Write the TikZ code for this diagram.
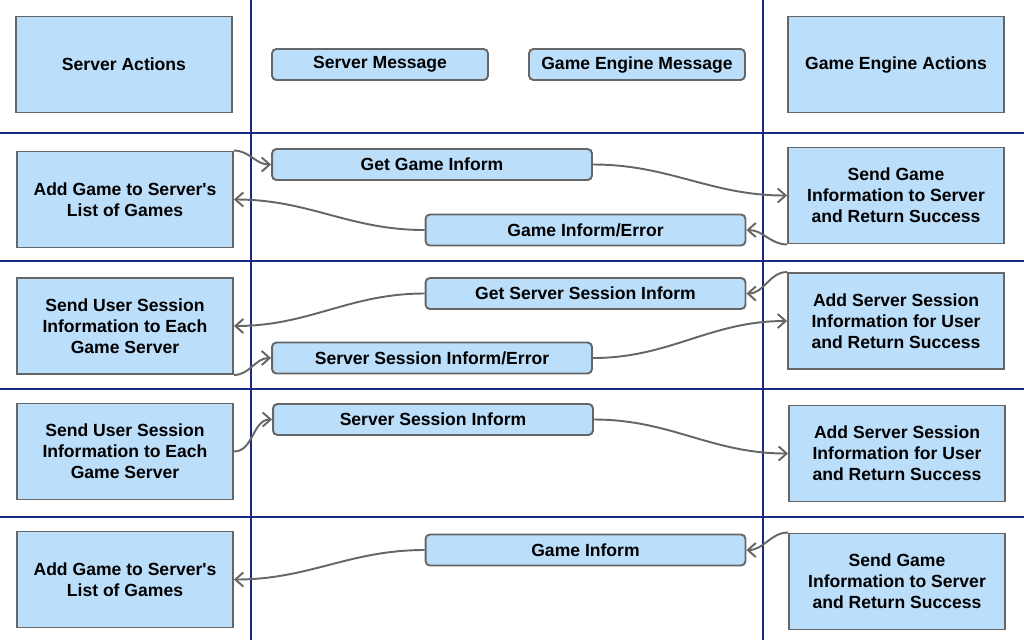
\documentclass[tikz,border=0pt]{standalone}
\usepackage{fontspec}
\setmainfont{Liberation Sans}
\usepackage{xcolor}
\usepackage{tikz}
\usetikzlibrary{arrows.meta, positioning}
\definecolor{laneblue}{RGB}{26, 40, 128}
\definecolor{boxfill}{RGB}{187, 222, 251}
\definecolor{boxgray}{RGB}{102, 102, 102}

\begin{document}
\begin{tikzpicture}[
    x=0.02cm, y=-0.02cm,
    lane/.style={draw=laneblue, line width=1.1pt},
    action/.style={rectangle, draw=boxgray, fill=boxfill, line width=1.1pt, minimum width=4.32cm, minimum height=1.92cm, align=center, font=\fontsize{10}{12}\selectfont\bfseries},
    msg/.style={rectangle, rounded corners=2.5pt, draw=boxgray, fill=boxfill, line width=1.1pt, minimum width=6.4cm, minimum height=0.62cm, align=center, font=\fontsize{10}{12}\selectfont\bfseries},
    arrow/.style={-{Straight Barb[length=4.5pt, width=8pt]}, draw=boxgray, line width=1.1pt}
]
\useasboundingbox (0,0) rectangle (1024,640);

% swimlane grid
\draw[lane] (251,0) -- (251,640);
\draw[lane] (763,0) -- (763,640);
\foreach \y in {133, 261, 389, 517}
    \draw[lane] (0,\y) -- (1024,\y);

% header
\node[action] (hdrserver) at (124,64.5) {Server Actions};
\node[action] (hdrengine) at (896,64.5) {Game Engine Actions};
\node[msg, minimum width=4.32cm] (hdrsmsg) at (380,64.5) {Server Message};
\node[msg, minimum width=4.32cm] (hdremsg) at (637,64.5) {Game Engine Message};

% row 1
\node[action] (left1) at (125,199.5) {Add Game to Server\textquotesingle s\\List of Games};
\node[action] (right1) at (896,195.5) {Send Game\\Information to Server\\and Return Success};
\node[msg] (getgame) at (432,164.5) {Get Game Inform};
\node[msg] (gameerr) at (585.5,230) {Game Inform/Error};

% row 2
\node[action] (left2) at (125,326) {Send User Session\\Information to Each\\Game Server};
\node[action] (right2) at (896,321) {Add Server Session\\Information for User\\and Return Success};
\node[msg] (getsess) at (585.5,293.5) {Get Server Session Inform};
\node[msg] (sesserr) at (432,358) {Server Session Inform/Error};

% row 3
\node[action] (left3) at (125,451.5) {Send User Session\\Information to Each\\Game Server};
\node[action] (right3) at (897,453.5) {Add Server Session\\Information for User\\and Return Success};
\node[msg] (sessinf) at (433,419.5) {Server Session Inform};

% row 4
\node[action] (left4) at (125,579.5) {Add Game to Server\textquotesingle s\\List of Games};
\node[action] (right4) at (897,581.5) {Send Game\\Information to Server\\and Return Success};
\node[msg] (gameinf) at (585.5,550) {Game Inform};

% messages
\draw[arrow] (left1.north east) to[out=0, in=180] (getgame.west);
\draw[arrow] (getgame.east) to[out=0, in=180] (right1.west);
\draw[arrow] (right1.south west) to[out=180, in=0] (gameerr.east);
\draw[arrow] (gameerr.west) to[out=180, in=0] (left1.east);

\draw[arrow] (right2.north west) to[out=180, in=0] (getsess.east);
\draw[arrow] (getsess.west) to[out=180, in=0] (left2.east);
\draw[arrow] (left2.south east) to[out=0, in=180] (sesserr.west);
\draw[arrow] (sesserr.east) to[out=0, in=180] (right2.west);

\draw[arrow] (left3.east) to[out=0, in=180] (sessinf.west);
\draw[arrow] (sessinf.east) to[out=0, in=180] (right3.west);

\draw[arrow] (right4.north west) to[out=180, in=0] (gameinf.east);
\draw[arrow] (gameinf.west) to[out=180, in=0] (left4.east);

\end{tikzpicture}
\end{document}
